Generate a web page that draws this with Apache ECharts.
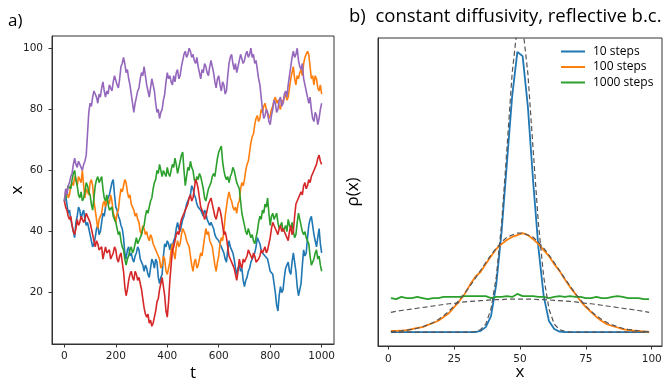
<!DOCTYPE html>
<html><head><meta charset="utf-8">
<script src="https://cdn.jsdelivr.net/npm/echarts@6/dist/echarts.min.js"></script>
<style>html,body{margin:0;padding:0;background:#fff}#c{width:666px;height:381px}</style>
</head><body><div id="c"></div>
<script>
// ---------- Panel a: five random walks, sampled every 5 steps (t = 0..1000) ----------
const walkBlue = [50,52,49,46,47,44,42,40,38,43,45,48,47,44,46,47,44,42,43,41,39,37,35,36,38,41,42,39,40,43,46,45,48,50,51,52,54,56,57,52,
48,47,45,44,42,41,38,33,31,34,35,32,33,31,30,32,33,35,34,31,30,29,27,29,28,26,25,28,31,30,28,31,30,25,23,25,26,32,36,35,
37,36,34,36,35,37,38,41,43,41,40,42,44,45,47,49,50,50,52,55,54,52,51,49,48,48,47,46,45,47,46,44,44,42,43,42,41,39,38,38,
37,36,35,34,33,31,30,34,37,35,34,33,31,28,26,28,29,27,28,24,22,24,25,27,28,30,30,32,33,35,38,37,36,34,33,33,32,32,31,29,
27,27,26,23,20,16,14,19,22,20,21,25,28,29,30,27,26,30,33,30,27,22,19,21,23,29,34,32,33,38,42,44,45,42,39,37,35,38,41,36,33];
const walkOrange = [50,53,54,51,52,55,56,55,58,57,55,58,57,56,60,55,51,54,53,52,56,57,55,50,47,44,41,44,45,46,49,50,48,51,50,49,52,50,46,45,
43,46,47,51,54,53,55,57,56,53,51,52,49,48,47,45,46,44,43,40,39,42,41,39,40,38,37,39,38,36,36,34,33,33,31,28,29,32,31,27,
26,28,30,34,36,33,31,35,37,35,36,39,41,40,39,37,36,35,32,29,27,30,31,28,29,31,33,32,35,38,41,39,40,37,36,35,32,29,27,30,
32,36,38,37,40,45,48,51,53,51,50,48,47,48,46,49,50,54,56,55,57,60,62,63,66,69,71,72,75,77,78,76,77,80,79,81,82,80,80,77,
78,80,81,83,84,82,83,81,80,83,82,84,85,83,84,87,90,92,94,90,88,91,90,92,93,91,95,97,97,99,98,94,90,91,88,91,90,87,86,88,85];
const walkGreen = [50,51,53,55,55,54,57,59,60,57,55,52,51,53,50,51,53,56,55,53,52,49,47,51,55,57,58,56,57,58,54,51,50,52,49,47,47,48,45,44,
43,41,39,40,37,35,34,31,29,31,32,34,35,33,34,36,38,36,37,38,39,41,42,45,47,46,48,50,51,54,56,57,60,59,62,60,58,60,59,58,
61,59,58,60,62,61,64,62,59,61,63,65,66,60,55,58,61,60,63,61,60,57,56,58,57,59,58,56,54,51,50,52,54,55,56,58,59,58,61,64,
66,67,68,63,60,58,57,58,56,58,59,61,60,58,56,55,54,50,46,44,42,40,39,41,41,38,39,37,36,38,40,43,45,44,47,46,49,48,51,46,
42,45,46,44,45,46,43,41,42,43,40,41,42,40,44,42,41,43,40,38,39,43,46,44,42,40,39,40,38,37,36,32,29,30,31,33,34,31,32,29,27];
const walkRed = [50,48,47,45,44,45,42,40,39,41,44,42,43,45,45,43,44,46,46,44,43,41,39,37,35,37,36,34,34,35,31,33,35,33,33,34,31,32,33,35,
34,31,30,32,33,30,27,22,19,21,24,26,27,25,24,27,26,24,25,23,21,18,15,13,12,13,10,11,9,10,12,14,17,18,21,23,25,22,19,14,
12,17,24,29,34,35,37,39,40,39,42,44,45,46,47,48,49,51,52,50,51,54,57,56,54,51,48,47,46,44,45,47,49,50,51,49,47,45,44,46,
48,47,45,42,39,40,38,35,32,31,30,29,28,26,24,27,31,29,28,31,30,31,32,34,33,32,31,33,32,30,30,31,32,34,33,34,35,33,34,36,
38,41,43,42,41,40,39,41,42,40,41,40,39,38,37,40,42,39,40,45,49,50,51,52,53,52,55,56,54,55,57,56,58,59,60,61,62,64,65,63,62];
const walkPurple = [50,54,52,55,56,58,59,62,64,62,61,63,63,61,60,62,63,65,72,79,82,81,84,86,86,84,82,85,84,87,89,86,84,86,85,88,87,86,89,91,
91,88,87,90,94,95,97,95,92,93,90,88,85,82,79,82,84,86,87,90,92,91,94,91,88,86,84,87,90,88,86,82,79,80,77,79,80,83,85,89,
92,90,91,89,88,91,89,92,93,90,91,94,96,98,99,97,98,100,99,97,98,96,95,97,94,92,90,93,92,95,94,92,91,94,96,94,92,89,87,90,
91,88,86,89,88,85,86,91,95,97,98,95,93,95,92,94,96,98,98,95,96,98,99,97,98,100,97,98,95,96,93,90,88,84,80,77,78,80,79,76,
75,78,80,83,82,79,80,83,84,81,82,85,86,84,88,91,94,97,99,97,98,100,96,94,93,95,90,88,86,84,82,84,80,77,76,79,78,75,77,80,82];
const tTicks = [0,200,400,600,800,1000];
const xTicksA = [20,40,60,80,100];

// ---------- Panel b: densities rho(x) on bin centres ----------
const binCenters = [1,3,5,7,9,11,13,15,17,19,21,23,25,27,29,31,33,35,37,39,41,43,45,47,49,51,53,55,57,59,61,63,65,67,69,71,73,75,77,79,81,83,85,87,89,91,93,95,97,99];
const rho10 = [0,0,0,0,0,0,0,0,0,0,0,0,0,0,0,0,0,0.0003,0.0013,0.0042,0.0127,0.0265,0.0445,0.0623,0.0742,0.0731,0.0596,0.0398,0.0223,0.0095,0.0029,0.0008,0.0001,0,0,0,0,0,0,0,0,0,0,0,0,0,0,0,0,0];
const rho100 = [0.0003,0.0003,0.0004,0.0005,0.0008,0.0011,0.0013,0.0019,0.0024,0.0030,0.0040,0.0050,0.0066,0.0082,0.0101,0.0125,0.0146,0.0159,0.0180,0.0201,0.0220,0.0233,0.0244,0.0252,0.0257,0.0262,0.0257,0.0246,0.0233,0.0217,0.0201,0.0180,0.0162,0.0140,0.0119,0.0101,0.0082,0.0066,0.0053,0.0040,0.0029,0.0021,0.0016,0.0012,0.0008,0.0005,0.0004,0.0003,0.0001,0.0001];
const rho1000 = [0.0090,0.0087,0.0093,0.0090,0.0090,0.0093,0.0090,0.0087,0.0090,0.0090,0.0093,0.0093,0.0093,0.0093,0.0095,0.0095,0.0095,0.0095,0.0095,0.0090,0.0093,0.0093,0.0095,0.0093,0.0101,0.0095,0.0095,0.0095,0.0093,0.0093,0.0090,0.0093,0.0095,0.0093,0.0095,0.0093,0.0093,0.0090,0.0090,0.0093,0.0090,0.0090,0.0093,0.0095,0.0093,0.0090,0.0090,0.0090,0.0087,0.0087];
const theory10 = [0,0,0,0,0,0,0,0,0,0,0,0,0,0,0,0,0.0001,0.0006,0.0021,0.0061,0.0146,0.0286,0.0482,0.0684,0.0811,0.0811,0.0684,0.0482,0.0286,0.0146,0.0061,0.0021,0.0006,0.0002,0,0,0,0,0,0,0,0,0,0,0,0,0,0,0,0];
const theory100 = [0.0001,0.0002,0.0003,0.0005,0.0007,0.0010,0.0014,0.0019,0.0025,0.0033,0.0043,0.0055,0.0069,0.0085,0.0102,0.0122,0.0142,0.0163,0.0184,0.0204,0.0222,0.0238,0.0251,0.0257,0.0262,0.0262,0.0257,0.0251,0.0238,0.0222,0.0204,0.0184,0.0163,0.0142,0.0122,0.0102,0.0085,0.0069,0.0055,0.0043,0.0033,0.0025,0.0019,0.0014,0.0010,0.0007,0.0005,0.0003,0.0002,0.0001];
const theory1000 = [0.0052,0.0055,0.0057,0.0059,0.0061,0.0063,0.0065,0.0067,0.0069,0.0071,0.0073,0.0075,0.0076,0.0078,0.0080,0.0081,0.0082,0.0083,0.0084,0.0085,0.0086,0.0086,0.0087,0.0087,0.0087,0.0087,0.0087,0.0087,0.0086,0.0086,0.0085,0.0084,0.0083,0.0082,0.0081,0.0080,0.0078,0.0076,0.0075,0.0073,0.0071,0.0069,0.0067,0.0065,0.0063,0.0061,0.0059,0.0057,0.0055,0.0052];
const xTicksB = [0,25,50,75,100];
const legendNames = ['10 steps','100 steps','1000 steps'];

const C = {blue:'#1f77b4', orange:'#ff7f0e', green:'#2ca02c', red:'#d62728', purple:'#9467bd', dash:'#555555'};
const times = walkBlue.map((_, i) => i * 5);
const pairs = (xs, ys) => ys.map((v, i) => [xs[i], v]);
const tickLabel = {fontFamily:'DejaVu Sans', fontSize:10.5, color:'#222', formatter: v => String(v)};
const humanist = '"Open Sans", Lato, sans-serif';
const spine = {show:true, onZero:false, lineStyle:{color:'#333', width:1}};
const nameStyle = {fontFamily:humanist, fontSize:17, color:'#000'};

function walk(name, arr, color) {
  return {name, type:'line', xAxisIndex:0, yAxisIndex:0, data:pairs(times, arr), showSymbol:false, symbol:'none',
    lineStyle:{color, width:1.6}, itemStyle:{color}, silent:true};
}
function dens(name, arr, color, dashed) {
  return {name, type:'line', xAxisIndex:1, yAxisIndex:1, data:pairs(binCenters, arr), showSymbol:false, symbol:'none',
    lineStyle:{color, width: dashed ? 1.2 : 1.8, type: dashed ? [5,3] : 'solid'}, itemStyle:{color}, silent:true, clip:true, z: dashed ? 3 : 2};
}

const chart = echarts.init(document.getElementById('c'), null, {renderer:'canvas'});
chart.setOption({
  animation:false,
  backgroundColor:'#fff',
  grid:[
    {left:52, top:36, width:282, height:308, outerBoundsMode:'none', containLabel:false, show:true, borderColor:'#333', borderWidth:1, backgroundColor:'transparent'},
    {left:378, top:38, width:284, height:308, outerBoundsMode:'none', containLabel:false, show:true, borderColor:'#333', borderWidth:1, backgroundColor:'transparent'}
  ],
  xAxis:[
    {gridIndex:0, type:'value', min:-48, max:1048, splitLine:{show:false}, axisLine:spine,
     axisTick:{show:true, inside:false, customValues:tTicks, length:3.5, lineStyle:{color:'#333'}},
     axisLabel:Object.assign({customValues:tTicks, margin:7}, tickLabel),
     name:'t', nameLocation:'middle', nameGap:21, nameMoveOverlap:false, nameTextStyle:nameStyle},
    {gridIndex:1, type:'value', min:-3.9, max:103.9, splitLine:{show:false}, axisLine:spine,
     axisTick:{show:true, inside:false, customValues:xTicksB, length:3.5, lineStyle:{color:'#333'}},
     axisLabel:Object.assign({customValues:xTicksB, margin:8}, tickLabel),
     name:'x', nameLocation:'middle', nameGap:18, nameMoveOverlap:false, nameTextStyle:nameStyle}
  ],
  yAxis:[
    {gridIndex:0, type:'value', min:3.2, max:104, splitLine:{show:false}, axisLine:spine,
     axisTick:{show:true, inside:false, customValues:xTicksA, length:3.5, lineStyle:{color:'#333'}},
     axisLabel:Object.assign({customValues:xTicksA, margin:9}, tickLabel),
     name:'x', nameLocation:'middle', nameGap:26, nameMoveOverlap:false, nameTextStyle:nameStyle},
    {gridIndex:1, type:'value', min:-0.0037, max:0.0779, splitLine:{show:false}, axisLine:spine,
     axisTick:{show:false}, axisLabel:{show:false},
     name:'ρ(x)', nameLocation:'middle', nameGap:16, nameMoveOverlap:false, nameTextStyle:nameStyle}
  ],
  legend:{data:legendNames, orient:'vertical', left:556, top:40, itemWidth:24, itemHeight:2, itemGap:2.5, icon:'rect',
    textStyle:{fontFamily:humanist, fontSize:12, color:'#000', lineHeight:13, padding:[0,0,0,3]}, selectedMode:false},
  graphic:[
    {type:'text', left:8, top:13, style:{text:'a)', font:'17px "Open Sans"', fill:'#000'}},
    {type:'text', left:349, top:7, style:{text:'b)  constant diffusivity, reflective b.c.', font:'18.5px "Open Sans"', fill:'#000'}}
  ],
  series:[
    walk('walk 1', walkBlue, C.blue),
    walk('walk 2', walkOrange, C.orange),
    walk('walk 3', walkGreen, C.green),
    walk('walk 4', walkRed, C.red),
    walk('walk 5', walkPurple, C.purple),
    dens('10 steps', rho10, C.blue, false),
    dens('100 steps', rho100, C.orange, false),
    dens('1000 steps', rho1000, C.green, false),
    dens('theory 10', theory10, C.dash, true),
    dens('theory 100', theory100, C.dash, true),
    dens('theory 1000', theory1000, C.dash, true)
  ]
});
</script></body></html>
